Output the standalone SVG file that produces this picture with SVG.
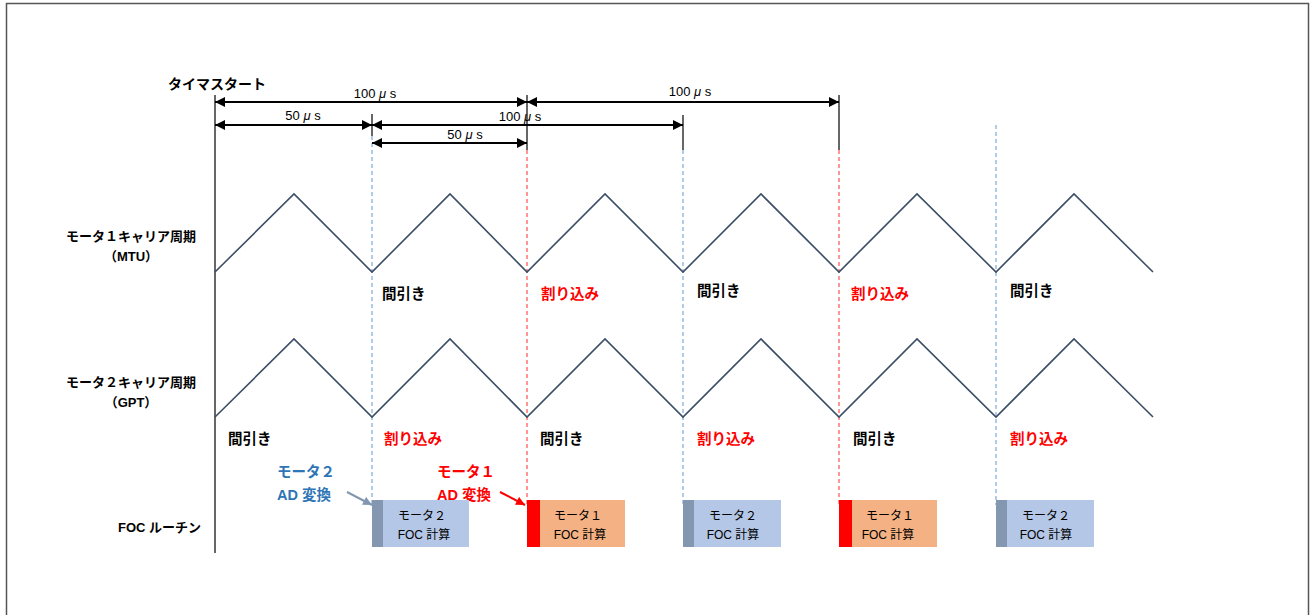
<svg xmlns="http://www.w3.org/2000/svg" width="1310" height="615" viewBox="0 0 1310 615">
<defs>
<marker id="ah" viewBox="0 0 10 10" refX="10" refY="5" markerWidth="12" markerHeight="10" markerUnits="userSpaceOnUse" orient="auto-start-reverse"><path d="M0,0 L10,5 L0,10 z" fill="#000"/></marker>
<marker id="ag" viewBox="0 0 10 10" refX="10" refY="5" markerWidth="10" markerHeight="9" markerUnits="userSpaceOnUse" orient="auto"><path d="M0,0 L10,5 L0,10 z" fill="#8497b0"/></marker>
<marker id="ar" viewBox="0 0 10 10" refX="10" refY="5" markerWidth="10" markerHeight="9" markerUnits="userSpaceOnUse" orient="auto"><path d="M0,0 L10,5 L0,10 z" fill="#ff0000"/></marker>
</defs>
<style>
text{font-family:"Liberation Sans","Noto Sans CJK JP",sans-serif;}
.lb{font-size:13px;font-weight:bold;fill:#000;}
.ev{font-size:14.5px;}
.red{fill:#ff0000;}
.blue{fill:#2e75b6;}
.dim{font-size:13px;fill:#000;}
.box{font-size:12px;fill:#000;}
.wave{fill:none;stroke:#3b4e66;stroke-width:1.6;}
.dash-b{stroke:#7fa8d8;stroke-width:1.2;stroke-dasharray:4,3;}
.dash-r{stroke:#ff5050;stroke-width:1.2;stroke-dasharray:4,3;}
.tick{stroke:#000;stroke-width:1.2;}
.arr{stroke:#000;stroke-width:2;marker-start:url(#ah);marker-end:url(#ah);}
</style>
<rect x="6.5" y="3.5" width="1302" height="620" fill="#fff" stroke="#555" stroke-width="1.5"/>

<g id="labels">
<text class="lb" x="168" y="89" style="font-size:14px">タイマスタート</text>
<text class="lb" x="131" y="241" text-anchor="middle">モータ１キャリア周期</text>
<text class="lb" x="131" y="261" text-anchor="middle">（MTU）</text>
<text class="lb" x="131" y="387" text-anchor="middle">モータ２キャリア周期</text>
<text class="lb" x="131" y="407" text-anchor="middle">（GPT）</text>
<text class="lb" x="201" y="532" text-anchor="end">FOC ルーチン</text>
</g>

<g id="connectors">
<line x1="215" y1="95" x2="215" y2="553" stroke="#000" stroke-width="1.2"/>
<line class="tick" x1="372" y1="114" x2="372" y2="136"/>
<line class="dash-b" x1="372" y1="136" x2="372" y2="505"/>
<line class="tick" x1="527" y1="95" x2="527" y2="150"/>
<line class="dash-r" x1="527" y1="150" x2="527" y2="505"/>
<line class="tick" x1="683" y1="115" x2="683" y2="150"/>
<line class="dash-b" x1="683" y1="150" x2="683" y2="505"/>
<line class="tick" x1="839" y1="95" x2="839" y2="150"/>
<line class="dash-r" x1="839" y1="150" x2="839" y2="505"/>
<line class="dash-b" x1="996" y1="125" x2="996" y2="505"/>

<line class="arr" x1="215" y1="102" x2="527" y2="102"/>
<line class="arr" x1="527" y1="102" x2="839" y2="102"/>
<line class="arr" x1="215" y1="125" x2="372" y2="125"/>
<line class="arr" x1="372" y1="125" x2="683" y2="125"/>
<line class="arr" x1="372" y1="143" x2="527" y2="143"/>

<polyline class="wave" points="215,272 294,194 372,272 450,194 527,272 605,194 683,272 761,194 839,272 917,194 996,272 1074,194 1153,272"/>
<polyline class="wave" points="215,417 294,339 372,417 450,339 527,417 605,339 683,417 761,339 839,417 917,339 996,417 1074,339 1153,417"/>

<line x1="347" y1="492" x2="372" y2="505" stroke="#8497b0" stroke-width="2" marker-end="url(#ag)"/>
<line x1="500" y1="492" x2="525" y2="505" stroke="#ff0000" stroke-width="2" marker-end="url(#ar)"/>
</g>

<g id="dim-labels">
<text class="dim" x="375" y="98" text-anchor="middle">100 <tspan font-style="italic">μ</tspan> s</text>
<text class="dim" x="690" y="96" text-anchor="middle">100 <tspan font-style="italic">μ</tspan> s</text>
<text class="dim" x="303" y="120" text-anchor="middle">50 <tspan font-style="italic">μ</tspan> s</text>
<text class="dim" x="520" y="121" text-anchor="middle">100 <tspan font-style="italic">μ</tspan> s</text>
<text class="dim" x="465" y="139" text-anchor="middle">50 <tspan font-style="italic">μ</tspan> s</text>
</g>

<g id="events">
<text class="lb ev" x="382" y="299">間引き</text>
<text class="lb ev red" x="541" y="299">割り込み</text>
<text class="lb ev" x="697" y="296">間引き</text>
<text class="lb ev red" x="851" y="299">割り込み</text>
<text class="lb ev" x="1010" y="296">間引き</text>
<text class="lb ev" x="228" y="444">間引き</text>
<text class="lb ev red" x="384" y="444">割り込み</text>
<text class="lb ev" x="540" y="444">間引き</text>
<text class="lb ev red" x="697" y="444">割り込み</text>
<text class="lb ev" x="853" y="444">間引き</text>
<text class="lb ev red" x="1010" y="444">割り込み</text>
<text class="lb ev blue" x="277" y="477">モータ２</text>
<text class="lb ev blue" x="277" y="500">AD 変換</text>
<text class="lb ev red" x="437" y="477">モータ１</text>
<text class="lb ev red" x="437" y="500">AD 変換</text>
</g>

<g id="foc1">
<rect x="372" y="500" width="97" height="47" fill="#b4c7e7"/><rect x="372" y="500" width="11" height="47" fill="#8497b0"/>
<text class="box" x="422" y="520" text-anchor="middle">モータ２</text><text class="box" x="424" y="539" text-anchor="middle">FOC 計算</text>
</g>
<g id="foc2">
<rect x="527" y="500" width="98" height="47" fill="#f4b183"/><rect x="527" y="500" width="13" height="47" fill="#ff0000"/>
<text class="box" x="578" y="520" text-anchor="middle">モータ１</text><text class="box" x="580" y="539" text-anchor="middle">FOC 計算</text>
</g>
<g id="foc3">
<rect x="683" y="500" width="98" height="47" fill="#b4c7e7"/><rect x="683" y="500" width="11" height="47" fill="#8497b0"/>
<text class="box" x="733" y="520" text-anchor="middle">モータ２</text><text class="box" x="733" y="539" text-anchor="middle">FOC 計算</text>
</g>
<g id="foc4">
<rect x="839" y="500" width="98" height="47" fill="#f4b183"/><rect x="839" y="500" width="13" height="47" fill="#ff0000"/>
<text class="box" x="890" y="520" text-anchor="middle">モータ１</text><text class="box" x="888" y="539" text-anchor="middle">FOC 計算</text>
</g>
<g id="foc5">
<rect x="996" y="500" width="98" height="47" fill="#b4c7e7"/><rect x="996" y="500" width="11" height="47" fill="#8497b0"/>
<text class="box" x="1046" y="520" text-anchor="middle">モータ２</text><text class="box" x="1046" y="539" text-anchor="middle">FOC 計算</text>
</g>
</svg>
